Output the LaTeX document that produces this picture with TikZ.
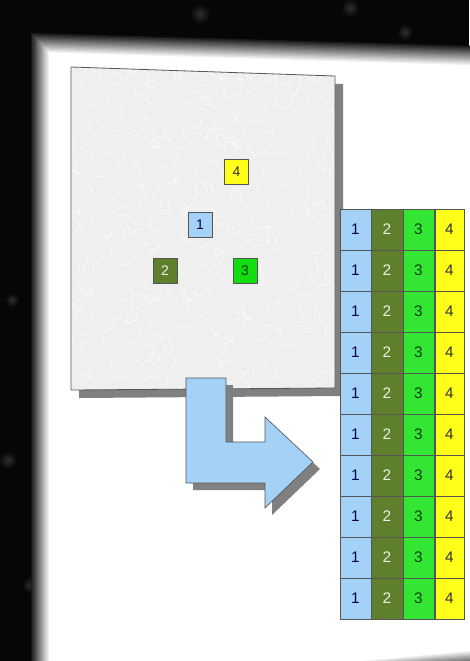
\documentclass[tikz,border=0pt]{standalone}
\usepackage{fontspec}
\setmainfont{Liberation Sans}
\usetikzlibrary{positioning}
\definecolor{ScrDark}{HTML}{060606}
\definecolor{MapPaper}{HTML}{EFEFEF}
\definecolor{MapShadow}{HTML}{808080}
\definecolor{MapEdge}{HTML}{555555}
\definecolor{IdBlue}{HTML}{A4D2F7}
\definecolor{IdOlive}{HTML}{5E7F2B}
\definecolor{IdGreen}{HTML}{33E633}
\definecolor{IdLime}{HTML}{11DD11}
\definecolor{IdYellow}{HTML}{FFFF1A}

\begin{document}
\begin{tikzpicture}[x=0.75pt,y=-0.75pt,
    tag/.style={draw=MapEdge,line width=0.5pt,minimum width=18pt,minimum height=18.5pt,
      inner sep=0pt,font=\fontsize{10.5}{12}\selectfont},
    cell/.style={draw=MapEdge,line width=0.5pt,minimum width=23.25pt,minimum height=30.75pt,
      inner sep=0pt,font=\fontsize{11.5}{13}\selectfont}]
  \useasboundingbox (0,0) rectangle (469,661);
  % screen and page
  \fill[ScrDark] (0,0) rectangle (469,661);
  \foreach \x/\y/\r in {200/14/10,350/8/9,405/32/8,8/460/9,30/585/8,12/300/7}{
    \shade[inner color=black!82,outer color=ScrDark] (\x,\y) circle (\r);}
  \foreach \i in {0,...,15}{
    \pgfmathtruncatemacro\k{90-6*\i}
    \fill[black!\k!white] (31+1.2*\i,33+1.3*\i) -- (480,46+1.3*\i) -- (480,668-1.2*\i)
      -- (31+1.2*\i,690) -- cycle;}
  % paper with shadow
  \fill[MapShadow] (79,75) -- (343,84) -- (343,396) -- (79,398) -- cycle;
  \fill[MapPaper] (71,67) -- (335,76) -- (335,388) -- (71,390) -- cycle;
  \begin{scope}
    \clip (71,67) -- (335,76) -- (335,388) -- (71,390) -- cycle;
    \pgfmathsetseed{11}
    \foreach \n in {1,...,380}{
      \pgfmathsetmacro\px{71+264*rnd}
      \pgfmathsetmacro\py{67+323*rnd}
      \pgfmathsetmacro\ang{rnd*360}
      \draw[white,line width=0.6pt,opacity=0.75] (\px,\py) -- ++(\ang:7) -- ++(\ang+50:6);}
  \end{scope}
  \draw[MapEdge,line width=0.6pt] (71,67) -- (335,76) -- (335,388) -- (71,390) -- cycle;
  % id tags
  \node[tag,fill=IdYellow,text=black!80] (tag4) at (236.5,171.5) {4};
  \node[tag,fill=IdBlue,text=blue!30!black] (tag1) at (200,224.5) {1};
  \node[tag,fill=IdOlive,text=white!88!IdOlive] (tag2) at (165,270.5) {2};
  \node[tag,fill=IdLime,text=green!25!black] (tag3) at (245,271) {3};
  % bent arrow
  \fill[MapShadow,shift={(7,7)}] (186,378) -- (226,378) -- (226,442) -- (265,442) -- (265,417)
    -- (313,462) -- (265,508) -- (265,483) -- (186,483) -- cycle;
  \draw[MapEdge,fill=IdBlue,line width=0.5pt] (186,378) -- (226,378) -- (226,442) -- (265,442)
    -- (265,417) -- (313,462) -- (265,508) -- (265,483) -- (186,483) -- cycle;
  % id table
  \foreach \r in {1,...,10}{
    \foreach \c/\cx/\w/\fc/\tc in {1/355.5/23.25/IdBlue/blue!30!black,
        2/387/24/IdOlive/white!88!IdOlive,3/418.5/23.25/IdGreen/green!25!black,
        4/449.5/21.75/IdYellow/black!80}{
      \node[cell,minimum width=\w pt,fill=\fc,text=\tc] (cell-\r-\c) at (\cx,{229.5+41*(\r-1)}) {\c};}}
\end{tikzpicture}
\end{document}
